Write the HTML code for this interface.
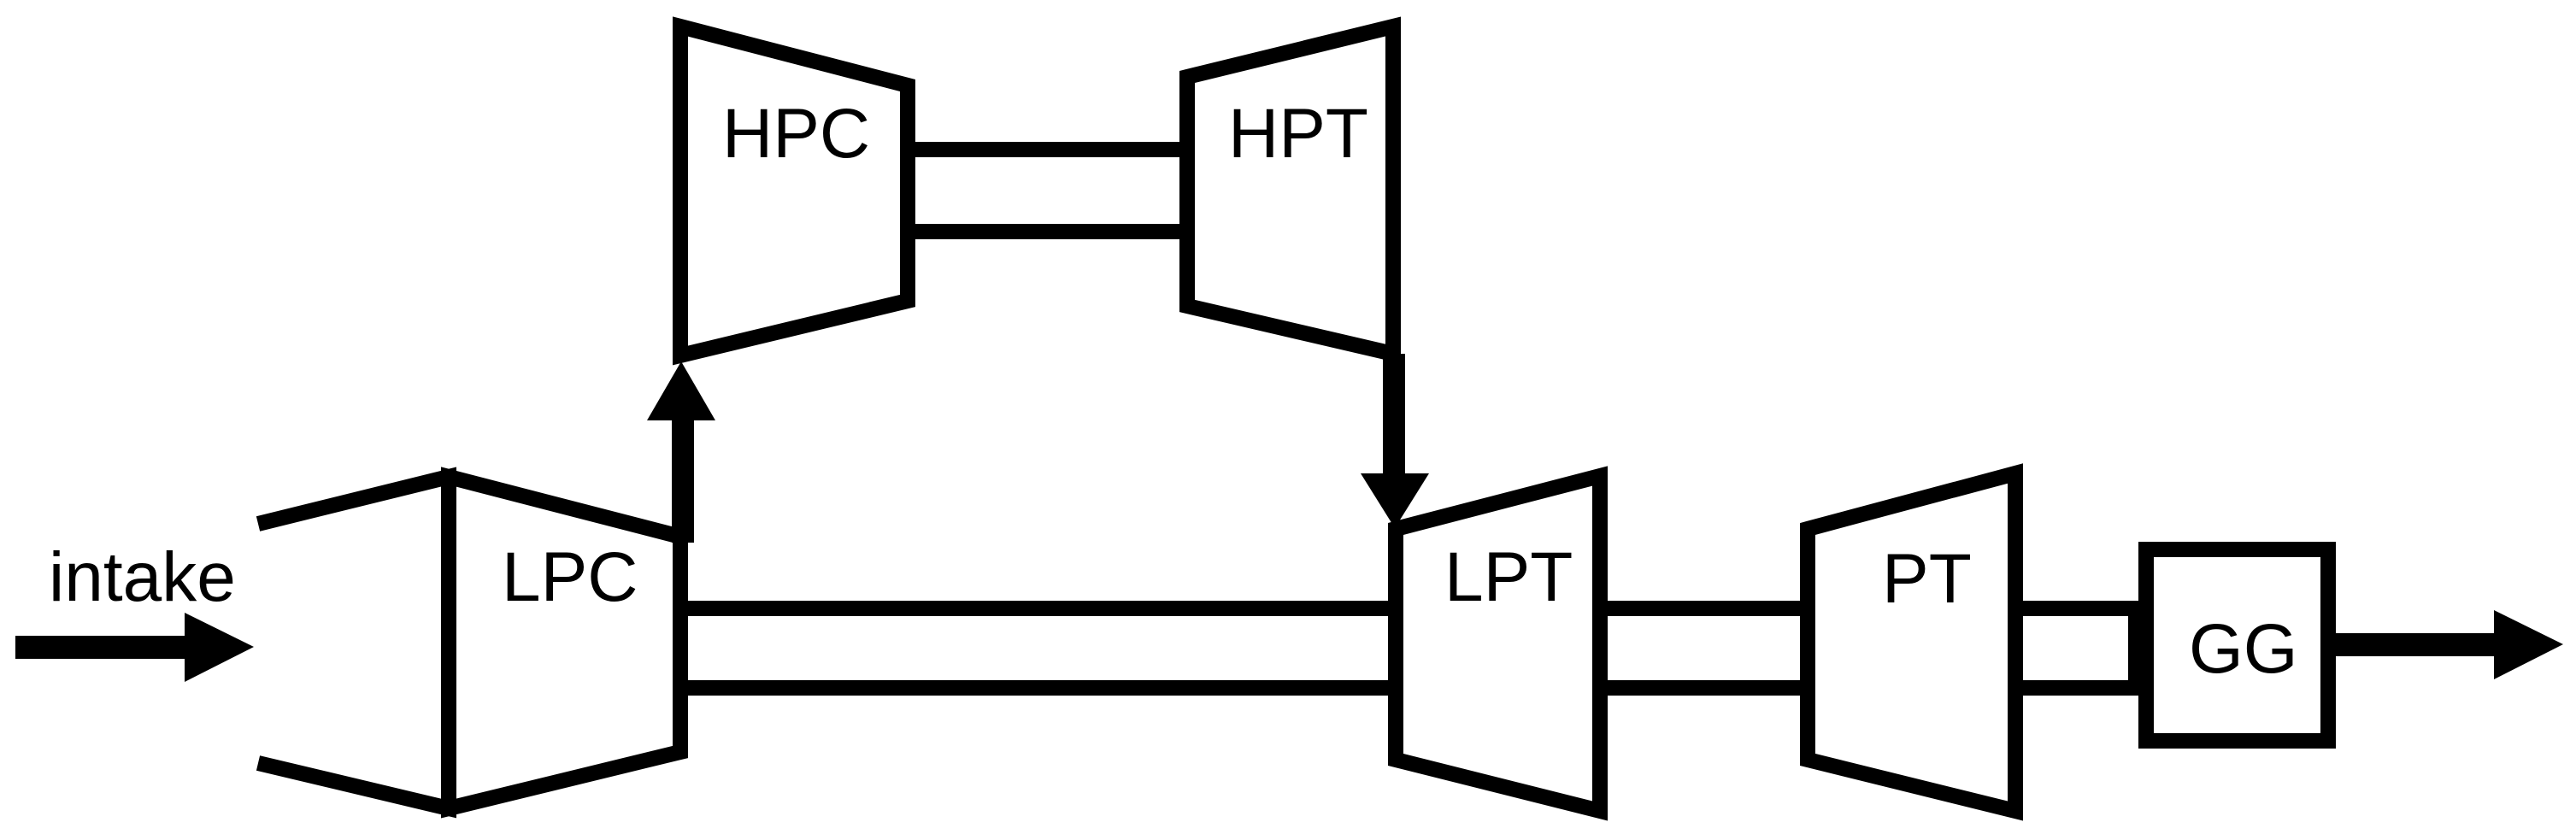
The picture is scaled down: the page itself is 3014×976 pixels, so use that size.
<!DOCTYPE html>
<html><head><style>html,body{margin:0;padding:0;background:#fff}svg{display:block}</style></head>
<body>
<svg width="3014" height="976" viewBox="0 0 3014 976" xmlns="http://www.w3.org/2000/svg">
<g fill="none" stroke="#000" stroke-width="18" stroke-linejoin="miter">
  <polyline points="302,613 525,558 525,946 302,893"/>
  <polygon points="525,558 796,628 796,880 525,946"/>
  <polygon points="796,31 1062,100 1062,352 796,416"/>
  <polygon points="1389,90 1630,31 1630,414 1389,358"/>
  <polygon points="1633,619 1872,557 1872,949 1633,889"/>
  <polygon points="2115,619 2358,554 2358,949 2115,889"/>
  <rect x="2511" y="643" width="213" height="224"/>
  <line x1="1062" y1="175" x2="1389" y2="175"/>
  <line x1="1062" y1="271" x2="1389" y2="271"/>
  <line x1="796" y1="712" x2="1633" y2="712"/>
  <line x1="796" y1="805" x2="1633" y2="805"/>
  <line x1="1872" y1="712" x2="2115" y2="712"/>
  <line x1="1872" y1="805" x2="2115" y2="805"/>
  <line x1="2358" y1="712" x2="2511" y2="712"/>
  <line x1="2358" y1="805" x2="2511" y2="805"/>
  <line x1="2500" y1="703" x2="2500" y2="814" stroke-width="20"/>
</g>
<g fill="#000">
  <rect x="18" y="744" width="200" height="27"/>
  <polygon points="216,717 297,757 216,798"/>
  <rect x="786" y="488" width="26" height="147"/>
  <polygon points="757,492 837,492 797,423"/>
  <rect x="1618" y="414" width="26" height="144"/>
  <polygon points="1592,554 1672,554 1632,618"/>
  <rect x="2724" y="741" width="196" height="27"/>
  <polygon points="2918,714 2999,754 2918,795"/>
</g>
<g font-family="Liberation Sans, sans-serif" font-size="82" fill="#000">
  <text x="57" y="703">intake</text>
  <text x="587" y="703">LPC</text>
  <text x="845" y="184">HPC</text>
  <text x="1437" y="184">HPT</text>
  <text x="1690" y="703">LPT</text>
  <text x="2202" y="705">PT</text>
  <text x="2561" y="787">GG</text>
</g>
</svg>
</body></html>
